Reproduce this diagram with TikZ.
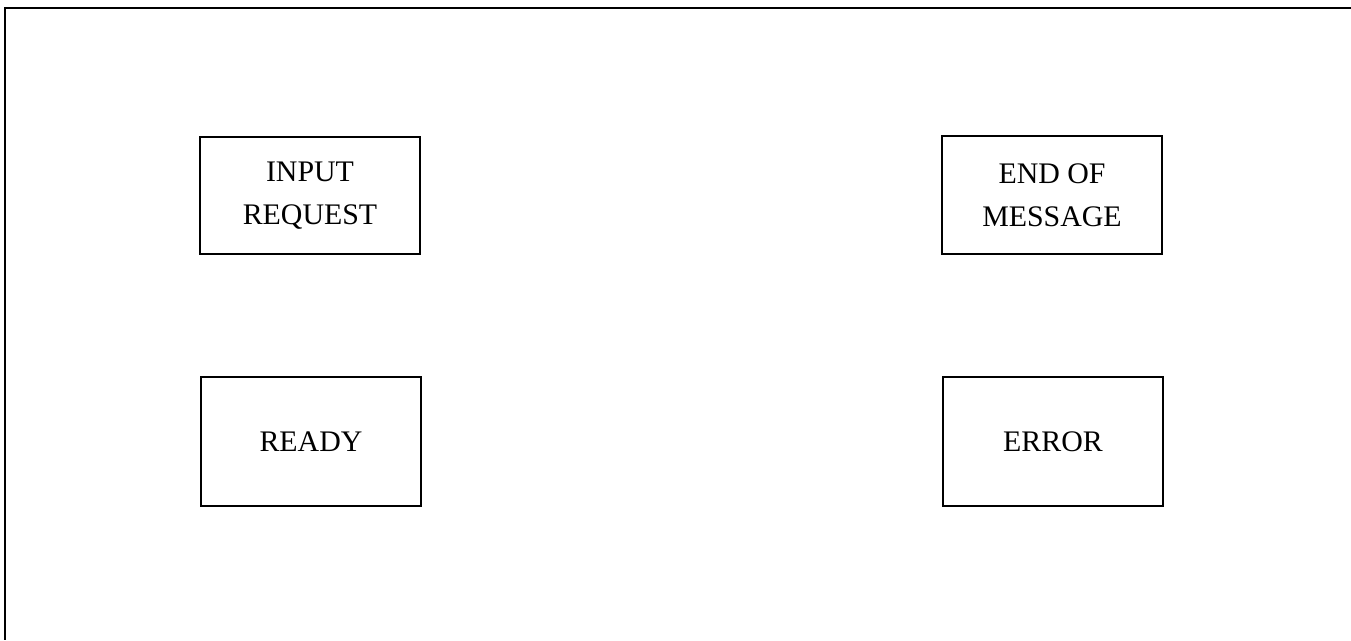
\documentclass[tikz,border=0pt]{standalone}
\usepackage{fontspec}
\setmainfont{Liberation Serif}

\begin{document}
\begin{tikzpicture}[x=0.02cm,y=-0.02cm]
  \tikzstyle{state}=[draw,line width=1.1pt,align=center,minimum width=4.4cm,inner sep=0pt,font=\fontsize{17}{24.6}\selectfont]

  \useasboundingbox (0,0) rectangle (1351,640);

  % rule along the top and down the left side
  \coordinate (top-right) at (1351,8);
  \coordinate (corner) at (5,8);
  \coordinate (bottom-left) at (5,640);
  \draw[line width=1.5pt] (top-right) -- (corner) -- (bottom-left);

  \foreach \name/\x/\y/\h/\txt in {in-req/310/195.5/2.34/{INPUT\\REQUEST}, eom/1052/195/2.36/{END OF\\MESSAGE},
                                   ready/311/441.5/2.58/{READY}, error/1053/441.5/2.58/{ERROR}}
    \node[state,minimum height=\h cm] (\name) at (\x,\y) {\txt};

\end{tikzpicture}
\end{document}
